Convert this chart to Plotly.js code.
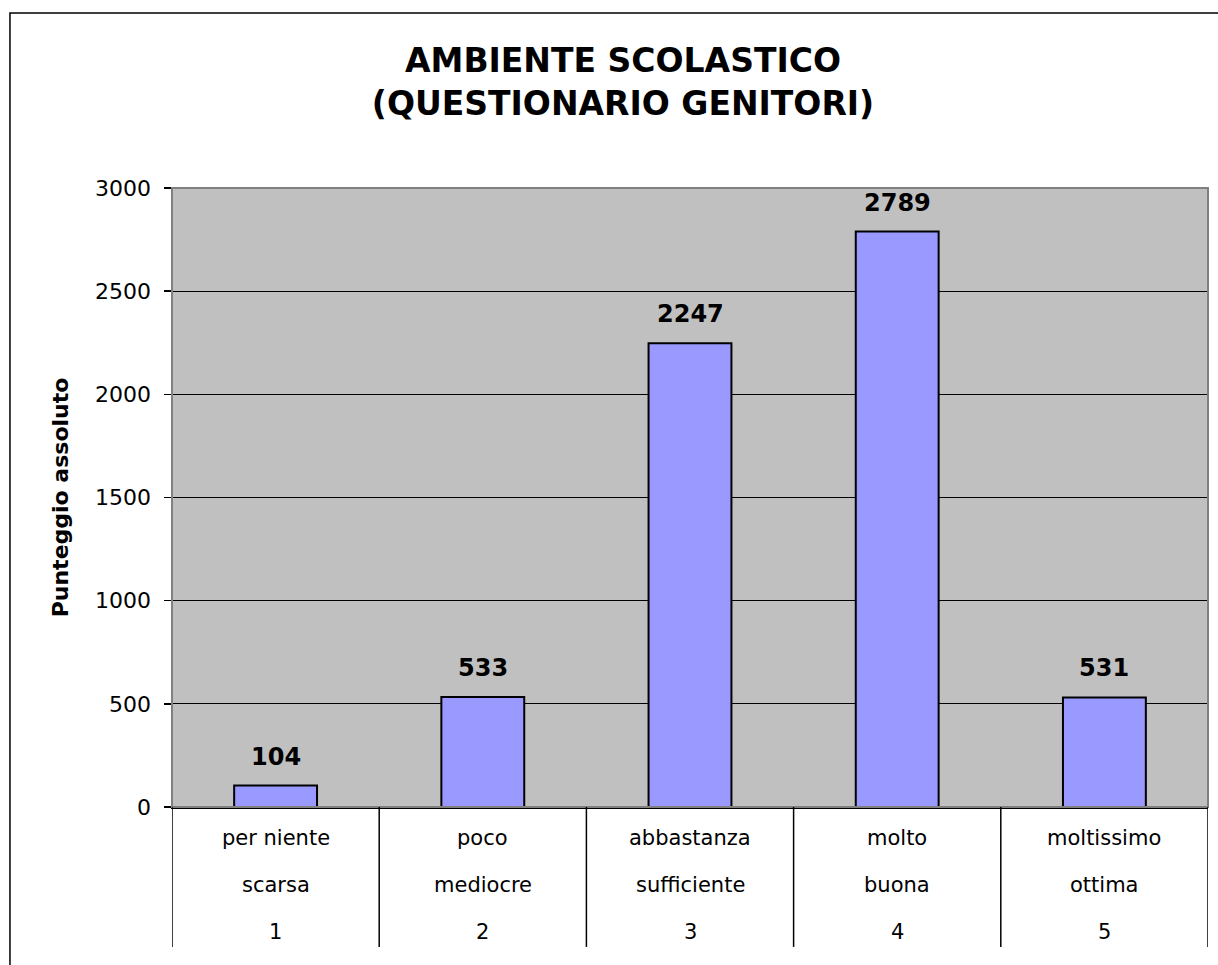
<!DOCTYPE html>
<html>
<head>
<meta charset="utf-8">
<script src="https://cdn.plot.ly/plotly-3.0.1.min.js"></script>
<style>
html,body{margin:0;padding:0;background:#fff;}
#chart{width:1218px;height:965px;}
</style>
</head>
<body>
<div id="chart"></div>
<script>
const levelTop = ["per niente", "poco", "abbastanza", "molto", "moltissimo"];
const levelMid = ["scarsa", "mediocre", "sufficiente", "buona", "ottima"];
const levelBottom = ["1", "2", "3", "4", "5"];
const values = [104, 533, 2247, 2789, 531];
const titleText = "AMBIENTE SCOLASTICO<br>(QUESTIONARIO GENITORI)";
const yTitle = "Punteggio assoluto";

const FONT = "DejaVu Sans, Liberation Sans, Arial, sans-serif";
const xIdx = levelBottom.map((_, i) => i);

const annotations = [];
const rows = [[levelTop, -0.050], [levelMid, -0.126], [levelBottom, -0.202]];
rows.forEach(([arr, y]) => {
  arr.forEach((t, i) => {
    annotations.push({
      x: i, xref: 'x', y: y, yref: 'paper', text: t, showarrow: false,
      xanchor: 'center', yanchor: 'middle',
      font: {family: FONT, size: 21, color: '#000'}
    });
  });
});
values.forEach((v, i) => {
  annotations.push({
    x: i, xref: 'x', y: v, yref: 'y', text: '<b>' + v + '</b>', showarrow: false,
    xanchor: 'center', yanchor: 'bottom', yshift: 13,
    font: {family: FONT, size: 24, color: '#000'}
  });
});

const shapes = [];
// plot area border (gray)
shapes.push({type: 'rect', xref: 'paper', yref: 'paper', x0: 0, x1: 1, y0: 0, y1: 1,
  line: {color: '#808080', width: 2}, layer: 'above'});
// category separators
for (let i = 0; i <= levelBottom.length; i++) {
  shapes.push({type: 'line', xref: 'x', yref: 'paper', x0: i - 0.5, x1: i - 0.5,
    y0: 0, y1: -0.226, line: {color: '#000', width: 1.5}});
}
// outer chart border
shapes.push({type: 'rect', xref: 'paper', yref: 'paper', x0: -0.1564, x1: 1.3, y0: -0.5, y1: 1.2827,
  line: {color: '#000', width: 1.5}, layer: 'below', fillcolor: 'rgba(0,0,0,0)'});

const trace = {
  type: 'bar',
  x: xIdx,
  y: values,
  width: 0.4,
  marker: {color: '#9999FF', line: {color: '#000', width: 2}},
  hoverinfo: 'skip'
};

const layout = {
  width: 1218, height: 965,
  margin: {l: 172, r: 10, t: 188, b: 158},
  paper_bgcolor: '#fff',
  plot_bgcolor: '#C0C0C0',
  showlegend: false,
  title: {
    text: '<b>' + titleText + '</b>',
    font: {family: FONT, size: 33, color: '#000'},
    xref: 'container', x: 0.5115, xanchor: 'center',
    yref: 'container', y: 1 - 72 / 965, yanchor: 'middle'
  },
  xaxis: {
    range: [-0.5, 4.5], showticklabels: false, ticks: '', showgrid: false,
    zeroline: false, showline: true, linecolor: '#000', linewidth: 1.5, fixedrange: true
  },
  yaxis: {
    range: [0, 3000], dtick: 500, tick0: 0,
    ticks: 'outside', ticklen: 7, tickcolor: '#000', tickwidth: 1.5,
    showline: true, linecolor: '#000', linewidth: 1.5,
    showgrid: true, gridcolor: '#000', gridwidth: 1, zeroline: false,
    tickfont: {family: FONT, size: 22, color: '#000'},
    ticklabelstandoff: 8,
    title: {text: '<b>' + yTitle + '</b>', font: {family: FONT, size: 22, color: '#000'}, standoff: 20},
    fixedrange: true
  },
  annotations: annotations,
  shapes: shapes
};

Plotly.newPlot('chart', [trace], layout, {displayModeBar: false, staticPlot: true});
</script>
</body>
</html>
